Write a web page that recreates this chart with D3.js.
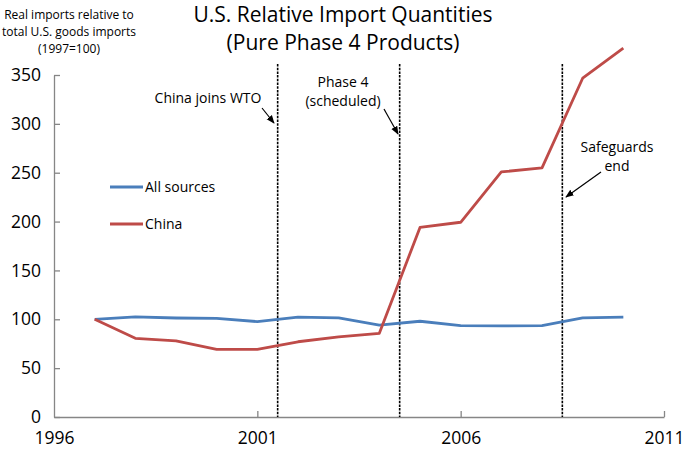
<!DOCTYPE html>
<html>
<head>
<meta charset="utf-8">
<script src="https://cdn.jsdelivr.net/npm/d3@7"></script>
<style>
  body { margin: 0; background: #fff; }
  svg { display: block; font-family: "Open Sans", "Liberation Sans", sans-serif; }
</style>
</head>
<body>
<svg id="chart" width="685" height="456"></svg>
<script>
const years = [1997,1998,1999,2000,2001,2002,2003,2004,2005,2006,2007,2008,2009,2010];
const allSources = [100,102.4,101.3,101,97.6,102.2,101.5,94,98,93.5,93.3,93.5,101.5,102.2];
const china = [100,80.5,78,69.2,69.2,77,82,85.6,194,199.3,250.8,255,346.7,377.5];
const yTicks = [0,50,100,150,200,250,300,350];
const xTicks = [1996,2001,2006,2011];
const events = [
  {x: 2001.5, label: ["China joins WTO"]},
  {x: 2004.5, label: ["Phase 4", "(scheduled)"]},
  {x: 2008.5, label: ["Safeguards", "end"]}
];
const seriesNames = ["All sources", "China"];
const colors = ["#4A7EBB", "#BE4B48"];

const svg = d3.select("#chart");
const x = d3.scaleLinear().domain([1996, 2011]).range([54, 664]);
const y = d3.scaleLinear().domain([0, 350]).range([417, 75]);
const axisColor = "#868686";

// Axes
const gy = svg.append("g").attr("transform", `translate(${x(1996)},0)`)
  .call(d3.axisLeft(y).tickValues(yTicks).tickSize(-6).tickPadding(13).tickSizeOuter(0));
const gx = svg.append("g").attr("transform", `translate(0,${y(0)})`)
  .call(d3.axisBottom(x).tickValues(xTicks).tickFormat(d3.format("d")).tickSize(-6).tickPadding(15).tickSizeOuter(0));
[gy, gx].forEach(g => {
  g.select(".domain").attr("stroke", axisColor).attr("stroke-width", 1.3);
  g.selectAll(".tick line").attr("stroke", axisColor).attr("stroke-width", 1.3);
  g.selectAll(".tick text").attr("fill", "#000").style("font-size", "17.5px")
    .style("font-family", "'Open Sans', sans-serif");
});
gx.selectAll(".tick").filter(d => d === 1996).select("line").remove();

// Event lines
svg.append("g").selectAll("line").data(events).join("line")
  .attr("x1", d => x(d.x)).attr("x2", d => x(d.x))
  .attr("y1", 64).attr("y2", y(0))
  .attr("stroke", "#000").attr("stroke-width", 1.6).attr("stroke-dasharray", "2.5,1.2");

// Lines
const line = d3.line().x((d, i) => x(years[i])).y(d => y(d));
[allSources, china].forEach((s, i) => {
  svg.append("path").datum(s).attr("d", line)
    .attr("fill", "none").attr("stroke", colors[i]).attr("stroke-width", 2.8)
    .attr("stroke-linejoin", "round");
});

// Legend
const legY = [187, 224];
seriesNames.forEach((n, i) => {
  svg.append("line").attr("x1", 110).attr("x2", 143).attr("y1", legY[i]).attr("y2", legY[i])
    .attr("stroke", colors[i]).attr("stroke-width", 2.8);
  svg.append("text").attr("x", 145).attr("y", legY[i]).attr("dy", "0.35em")
    .style("font-size", "14px").text(n);
});

// Annotations
const defs = svg.append("defs");
defs.append("marker").attr("id", "arr").attr("viewBox", "0 0 10 10").attr("refX", 9).attr("refY", 5)
  .attr("markerWidth", 7).attr("markerHeight", 7).attr("orient", "auto")
  .append("path").attr("d", "M0,1 L10,5 L0,9 Z").attr("fill", "#000");

const annText = [
  {cx: 208, y0: 103},
  {cx: 343, y0: 87},
  {cx: 617, y0: 152}
];
const arrows = [
  {x1: 262, y1: 108, x2: 274, y2: 123},
  {x1: 384, y1: 109, x2: 398, y2: 134},
  {x1: 601, y1: 172, x2: 566, y2: 197}
];
events.forEach((e, i) => {
  const t = svg.append("text").attr("text-anchor", "middle").style("font-size", "14px");
  e.label.forEach((l, j) => {
    t.append("tspan").attr("x", annText[i].cx).attr("y", annText[i].y0 + j * 19).text(l);
  });
  const a = arrows[i];
  svg.append("line").attr("x1", a.x1).attr("y1", a.y1).attr("x2", a.x2).attr("y2", a.y2)
    .attr("stroke", "#000").attr("stroke-width", 1.2).attr("marker-end", "url(#arr)");
});

// Title
const title = svg.append("text").attr("text-anchor", "middle").style("font-size", "21px");
title.append("tspan").attr("x", 343).attr("y", 22).text("U.S. Relative Import Quantities");
title.append("tspan").attr("x", 343).attr("y", 50).text("(Pure Phase 4 Products)");

// Y label
const yl = svg.append("text").attr("text-anchor", "middle").style("font-size", "12px");
["Real imports relative to", "total U.S. goods imports", "(1997=100)"].forEach((l, j) => {
  yl.append("tspan").attr("x", 69).attr("y", 19 + j * 17).text(l);
});
</script>
</body>
</html>
